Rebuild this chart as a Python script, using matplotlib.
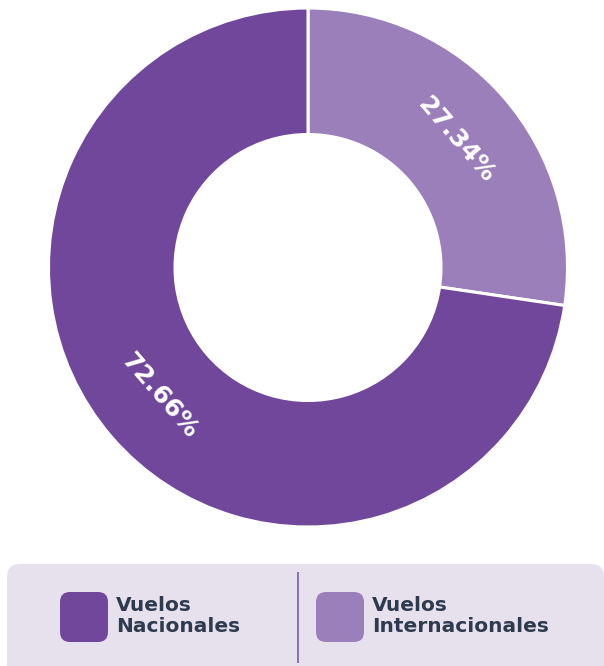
import numpy as np
import matplotlib.pyplot as plt
from matplotlib.patches import FancyBboxPatch

# Share of flights by type
categories = ["Vuelos\nInternacionales", "Vuelos\nNacionales"]
shares = [27.34, 72.66]
colors = ["#9b7fba", "#71479b"]
legend_order = [1, 0]   # legend shows Nacionales first

TEXT_DARK = "#2e3b4e"

fig = plt.figure(figsize=(6.04, 6.66), dpi=100)
ax = fig.add_axes([0, 0, 1, 1])

# donut, pixel-ish coordinates (y up)
cx, cy = 308, 666 - 267.5
r_out, r_in = 259.5, 133
wedges, _ = ax.pie(shares, colors=colors, startangle=90, counterclock=False,
                   center=(cx, cy), radius=r_out, frame=True,
                   wedgeprops=dict(width=r_out - r_in, edgecolor="white", linewidth=2.2))

# percentage labels, written along the ring
r_lab = (r_out + r_in) / 2
for w, v in zip(wedges, shares):
    mid = (w.theta1 + w.theta2) / 2
    x = cx + r_lab * np.cos(np.radians(mid))
    y = cy + r_lab * np.sin(np.radians(mid))
    rot = mid - 90
    rot = (rot + 180) % 360 - 180
    if rot > 90:
        rot -= 180
    elif rot < -90:
        rot += 180
    ax.text(x, y, "%.2f%%" % v, rotation=rot, rotation_mode="anchor",
            ha="center", va="center", color="white", fontsize=18,
            fontweight="bold", family="DejaVu Sans")

# legend panel
panel = FancyBboxPatch((7, -20), 597, 122, boxstyle="round,pad=0,rounding_size=13",
                       facecolor="#e7e1ee", edgecolor="none")
ax.add_patch(panel)
ax.plot([298, 298], [3, 94], color="#8d6db0", lw=1.4, solid_capstyle="butt")

for k, i in enumerate(legend_order):
    x0 = 60 + k * 256
    sw = FancyBboxPatch((x0, 24), 48, 50, boxstyle="round,pad=0,rounding_size=10",
                        facecolor=colors[i], edgecolor="none")
    ax.add_patch(sw)
    ax.text(x0 + 56, 50, categories[i], ha="left", va="center", color=TEXT_DARK,
            fontsize=14.5, fontweight="bold", family="DejaVu Sans", linespacing=1.15)

ax.set_xlim(0, 604)
ax.set_ylim(0, 666)
ax.set_aspect("auto")
ax.axis("off")

fig.savefig("out.png", dpi=100, facecolor="white")
